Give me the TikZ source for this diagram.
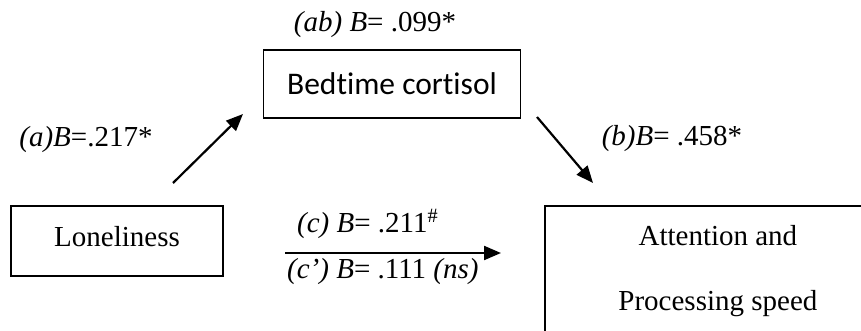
\documentclass[tikz,border=0pt]{standalone}
\usepackage{fontspec}
\setmainfont{Liberation Serif}
\newfontfamily\calibri[Ligatures=NoCommon]{Carlito}
\usetikzlibrary{arrows.meta, positioning}

\begin{document}
\begin{tikzpicture}[x=1pt, y=-1pt,
    box/.style={draw, line width=1.8pt, inner sep=0pt},
    effect/.style={line width=2.2pt, -{Triangle[length=17pt, width=14pt]}},
    coef/.style={inner sep=0pt},
    every node/.style={font=\fontsize{29}{34}\selectfont}]
    \useasboundingbox (0,0) rectangle (861,331);

    % Hộp "Bedtime cortisol" (biến trung gian)
    \node[box, minimum width=257pt, minimum height=68pt, font=\calibri\fontsize{31.5}{36}\selectfont] (cort) at (392,84) {Bedtime cortisol};
    \node[coef] (ab) at (375,25) {\textit{(ab) B}= .099*};

    % Hộp "Loneliness"
    \node[box, minimum width=212pt, minimum height=70pt, text depth=10pt] (lone) at (117,241) {Loneliness};

    % Hộp "Attention and Processing speed" (bị cắt ở mép hình)
    \node[box, anchor=north west, minimum width=346pt, minimum height=130pt, align=center, font=\fontsize{29}{65}\selectfont] (att) at (544,205) {Attention and\\Processing speed};

    % Đường (a): Loneliness -> Bedtime cortisol
    \coordinate (aS) at (173,183);
    \coordinate (aE) at (243,114);
    \draw[effect] (aS) -- (aE);
    \node[coef] (a) at (86,140) {\textit{(a)B}=.217*};

    % Đường (b): Bedtime cortisol -> Attention
    \coordinate (bS) at (537,117);
    \coordinate (bE) at (593,183);
    \draw[effect] (bS) -- (bE);
    \node[coef] (b) at (672,139) {\textit{(b)B}= .458*};

    % Đường (c) và (c'): Loneliness -> Attention
    \coordinate (cS) at (285,253);
    \coordinate (cE) at (501,253);
    \draw[effect] (cS) -- (cE);
    \node[coef, anchor=base west] (c) at (297,232) {\textit{(c) B}= .211\textsuperscript{\#}};
    \node[coef, anchor=base west] (cc) at (287,278) {\textit{(c') B}= .111 \textit{(ns)}};

\end{tikzpicture}
\end{document}
